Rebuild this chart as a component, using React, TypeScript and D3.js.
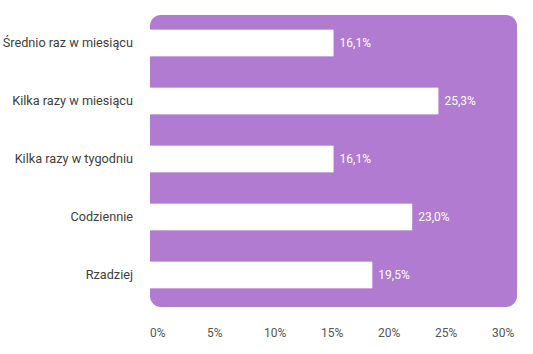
// Horizontal bar chart drawn with D3 on a rounded purple panel

import React, { useEffect, useRef } from 'react'
import * as d3 from 'd3'

const categories = [
  'Średnio raz w miesiącu',
  'Kilka razy w miesiącu',
  'Kilka razy w tygodniu',
  'Codziennie',
  'Rzadziej',
]
const values = [16.1, 25.3, 16.1, 23.0, 19.5]
const ticks = [0, 5, 10, 15, 20, 25, 30]

const WIDTH = 533
const HEIGHT = 354
const FONT = 'Roboto, "Noto Sans", sans-serif'

const create = (el: SVGSVGElement) => {
  const svg = d3.select(el)

  const x = d3.scaleLinear().domain([0, 30]).range([150, 492])
  const y = d3
    .scaleBand<string>()
    .domain(categories)
    .range([14, 304])
    .paddingInner(0.54)
    .paddingOuter(0.27)

  // Background panel
  svg
    .append('rect')
    .attr('x', x(0))
    .attr('y', 15)
    .attr('width', 517 - x(0))
    .attr('height', 292)
    .attr('rx', 11)
    .attr('fill', '#b07bd0')

  // Bars
  svg
    .selectAll('rect.bar')
    .data(values)
    .enter()
    .append('rect')
    .attr('class', 'bar')
    .attr('x', x(0))
    .attr('y', (_, i) => y(categories[i]) as number)
    .attr('width', d => x(d) - x(0))
    .attr('height', y.bandwidth())
    .attr('fill', '#ffffff')

  // Value labels
  svg
    .selectAll('text.value')
    .data(values)
    .enter()
    .append('text')
    .attr('class', 'value')
    .attr('x', d => x(d) + 6)
    .attr('y', (_, i) => (y(categories[i]) as number) + y.bandwidth() / 2)
    .attr('dy', '0.35em')
    .style('font-family', FONT)
    .style('font-size', '12px')
    .style('fill', '#ffffff')
    .text(d => d.toFixed(1).replace('.', ',') + '%')

  // Category labels
  svg
    .selectAll('text.cat')
    .data(categories)
    .enter()
    .append('text')
    .attr('class', 'cat')
    .attr('x', 133)
    .attr('y', d => (y(d) as number) + y.bandwidth() / 2)
    .attr('dy', '0.35em')
    .attr('text-anchor', 'end')
    .style('font-family', FONT)
    .style('font-size', '12.7px')
    .style('fill', '#404040')
    .text(d => d)

  // X axis labels
  svg
    .selectAll('text.tick')
    .data(ticks)
    .enter()
    .append('text')
    .attr('class', 'tick')
    .attr('x', d => x(d))
    .attr('y', 333)
    .attr('dy', '0.35em')
    .style('font-family', FONT)
    .style('font-size', '12px')
    .style('fill', '#555555')
    .text(d => `${d}%`)
}

export default function App() {
  const ref = useRef<SVGSVGElement>(null)

  useEffect(() => {
    if (!ref.current) return
    d3.select(ref.current).selectAll('*').remove()
    create(ref.current)
  }, [])

  return (
    <div style={{ position: 'fixed', left: 0, top: 0, background: '#fff' }}>
      <svg ref={ref} width={WIDTH} height={HEIGHT} style={{ display: 'block' }} />
    </div>
  )
}
